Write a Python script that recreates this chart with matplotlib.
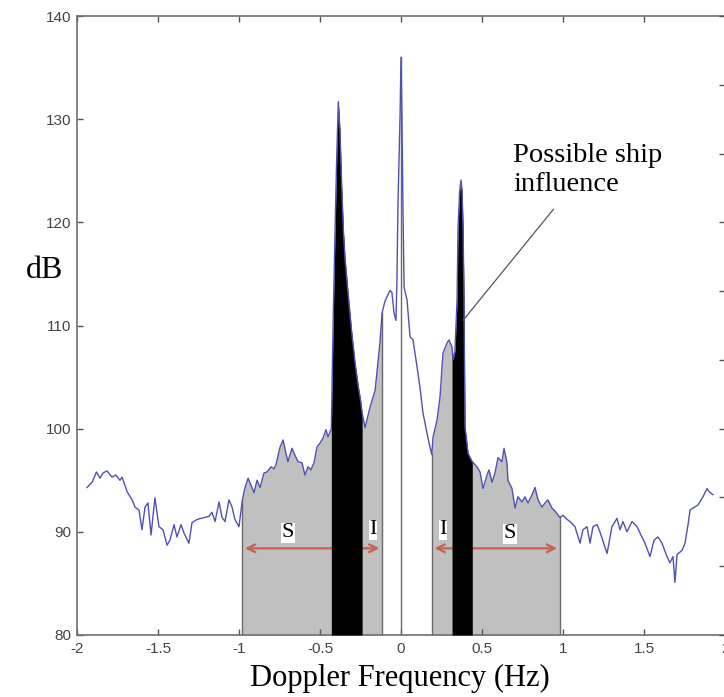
import numpy as np
import matplotlib
matplotlib.use("Agg")
import matplotlib.pyplot as plt

# Doppler spectrum (Hz, dB)
freq = [
    -1.938, -1.907, -1.880, -1.858, -1.840, -1.815, -1.784, -1.760, -1.735, -1.722,
    -1.691, -1.660, -1.642, -1.617, -1.599, -1.580, -1.562, -1.543, -1.519, -1.494,
    -1.469, -1.444, -1.426, -1.401, -1.383, -1.358, -1.340, -1.309, -1.290, -1.259,
    -1.235, -1.210, -1.185, -1.167, -1.148, -1.123, -1.105, -1.086, -1.062, -1.043,
    -1.025, -1.000, -0.980, -0.963, -0.944, -0.920, -0.907, -0.889, -0.870, -0.846,
    -0.827, -0.802, -0.784, -0.772, -0.747, -0.728, -0.710, -0.698, -0.673, -0.654,
    -0.636, -0.611, -0.593, -0.574, -0.556, -0.537, -0.519, -0.500, -0.481, -0.463,
    -0.451, -0.430, -0.428, -0.418, -0.407, -0.397, -0.387, -0.377, -0.366, -0.356,
    -0.346, -0.325, -0.304, -0.284, -0.263, -0.250, -0.240, -0.222, -0.191, -0.160,
    -0.130, -0.117, -0.100, -0.086, -0.068, -0.056, -0.043, -0.031, -0.025, -0.019,
    -0.006, 0.000, 0.006, 0.012, 0.019, 0.037, 0.056, 0.074, 0.099, 0.117,
    0.136, 0.160, 0.179, 0.190, 0.198, 0.222, 0.241, 0.259, 0.284, 0.296,
    0.315, 0.321, 0.333, 0.346, 0.352, 0.362, 0.370, 0.377, 0.383, 0.389,
    0.395, 0.414, 0.440, 0.469, 0.488, 0.506, 0.531, 0.543, 0.562, 0.580,
    0.599, 0.623, 0.636, 0.654, 0.660, 0.685, 0.704, 0.722, 0.747, 0.765,
    0.784, 0.809, 0.827, 0.846, 0.870, 0.889, 0.907, 0.932, 0.957, 0.980,
    1.000, 1.025, 1.043, 1.074, 1.105, 1.123, 1.148, 1.167, 1.185, 1.210,
    1.228, 1.272, 1.302, 1.333, 1.352, 1.370, 1.395, 1.426, 1.457, 1.481,
    1.506, 1.537, 1.562, 1.586, 1.611, 1.642, 1.660, 1.679, 1.691, 1.704,
    1.735, 1.753, 1.772, 1.784, 1.802, 1.833, 1.864, 1.889, 1.901, 1.926,
]
power_db = [
    94.3, 94.8, 95.8, 95.2, 95.7, 95.9, 95.3, 95.5, 95.0, 95.3,
    93.9, 93.1, 92.4, 92.1, 90.2, 92.4, 92.8, 89.7, 93.3, 90.5,
    90.2, 88.7, 89.2, 90.7, 89.5, 90.7, 89.9, 88.9, 90.9, 91.2,
    91.3, 91.4, 91.5, 91.9, 91.0, 92.9, 91.4, 91.0, 93.1, 92.4,
    91.2, 90.5, 93.0, 94.3, 95.2, 94.3, 93.8, 95.0, 94.3, 95.7,
    95.8, 96.3, 96.1, 96.5, 98.2, 98.9, 97.6, 96.8, 98.1, 97.4,
    96.8, 96.7, 95.5, 96.3, 96.0, 96.7, 98.2, 98.6, 99.1, 99.9,
    99.2, 100.0, 102.0, 111.0, 119.3, 126.3, 131.7, 129.0, 123.4, 119.3,
    116.6, 112.8, 109.3, 106.4, 104.0, 102.8, 101.5, 100.1, 102.1, 103.7,
    108.3, 111.2, 112.3, 112.8, 113.4, 113.2, 111.2, 110.5, 114.4, 121.5,
    130.2, 136.0, 130.0, 121.5, 113.7, 112.5, 108.9, 108.6, 106.0, 104.0,
    101.5, 99.6, 98.2, 97.5, 99.2, 100.8, 103.1, 107.3, 108.3, 108.6,
    107.9, 106.7, 107.5, 112.5, 119.5, 123.0, 124.1, 123.0, 119.5, 112.5,
    100.2, 97.6, 96.8, 96.3, 95.8, 94.2, 95.5, 96.0, 94.8, 95.7,
    97.2, 96.8, 98.1, 96.7, 95.0, 94.2, 92.3, 93.4, 92.9, 93.4,
    92.8, 93.6, 94.3, 93.1, 92.4, 92.8, 93.1, 92.3, 91.9, 91.4,
    91.6, 91.2, 91.0, 90.5, 88.9, 90.2, 90.5, 88.9, 90.5, 90.7,
    90.0, 87.9, 90.5, 91.3, 90.2, 91.0, 90.0, 91.0, 90.5, 89.7,
    88.9, 87.6, 89.2, 89.5, 88.9, 87.6, 87.0, 87.6, 85.1, 87.8,
    88.2, 88.9, 90.7, 92.1, 92.3, 92.6, 93.4, 94.2, 93.9, 93.6,
]

# band limits (Hz)
sea_bands = [(-0.980, -0.117), (0.190, 0.980)]
peak_bands = [(-0.430, -0.240), (0.315, 0.440)]
band_edges = [-0.980, -0.117, 0.000, 0.190, 0.980]
arrow_db = 88.4
band_labels = [("S", -0.698, 89.9), ("I", -0.173, 90.2), ("I", 0.259, 90.2), ("S", 0.673, 89.8)]

x = np.array(freq)
y = np.array(power_db)

fig = plt.figure(figsize=(7.24, 6.97), dpi=100)
ax = fig.add_axes([77 / 724, 62 / 697, 648 / 724, 619 / 697])

for a, b in sea_bands:
    m = (x >= a) & (x <= b)
    ax.fill_between(x, 80, y, where=m, color="#c0c0c0", lw=0, zorder=1)
    ax.annotate("", xy=(a, arrow_db), xytext=(b, arrow_db),
                arrowprops=dict(arrowstyle="<->", color="#c8604f", lw=1.6,
                                mutation_scale=14), zorder=2)

for a, b in peak_bands:
    m = (x >= a) & (x <= b)
    ax.fill_between(x, 80, y, where=m, color="black", lw=0, zorder=3)

for e in band_edges:
    i = int(np.argmin(np.abs(x - e)))
    ax.plot([e, e], [80, y[i]], color="#6a6a6a", lw=1.0, zorder=3.5)

ax.plot(x, y, color="#5050b4", lw=1.0, zorder=4)

for s, lx, ly in band_labels:
    ax.text(lx, ly, s, ha="center", va="center", fontsize=16,
            family="Liberation Serif", zorder=5,
            bbox=dict(facecolor="white", edgecolor="none", pad=0.5))

ax.annotate("Possible ship\ninfluence", xy=(0.383, 110.5), xytext=(0.691, 127.7),
            ha="left", va="top", fontsize=20.5, family="Liberation Serif",
            linespacing=1.2,
            arrowprops=dict(arrowstyle="-", color="#555555", lw=0.9,
                            shrinkA=9, shrinkB=0, relpos=(0.34, 0.0)))

ax.set_xlim(-2, 2)
ax.set_ylim(80, 140)
ax.set_xticks(np.arange(-2, 2.01, 0.5))
ax.set_xticklabels(["-2", "-1.5", "-1", "-0.5", "0", "0.5", "1", "1.5", "2"])
ax.set_yticks(np.arange(80, 141, 10))
ax.tick_params(direction="in", length=4, width=1, color="#555555",
               labelsize=11, labelcolor="#444444", top=True)
ax.tick_params(axis="x", pad=5)
ax.tick_params(axis="y", pad=4)
for lab in ax.get_xticklabels() + ax.get_yticklabels():
    lab.set_family("Liberation Sans")
for sp in ax.spines.values():
    sp.set_color("#707070")
    sp.set_linewidth(1.2)

ax2 = ax.twinx()
ax2.set_ylim(80, 140)
ax2.set_yticks(np.linspace(80, 140, 10))
ax2.set_yticklabels([])
ax2.tick_params(direction="in", length=4, width=1, color="#555555")
for sp in ax2.spines.values():
    sp.set_visible(False)

fig.text(45 / 724, 1 - 270 / 697, "dB", ha="center", va="center",
         fontsize=23, family="Liberation Serif")
fig.text(400 / 724, 1 - 678 / 697, "Doppler Frequency (Hz)", ha="center", va="center",
         fontsize=22, family="Liberation Serif")

fig.savefig("out.png", dpi=100)
